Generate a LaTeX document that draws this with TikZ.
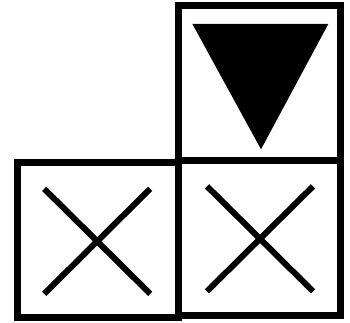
\documentclass[tikz,border=0pt]{standalone}
\usetikzlibrary{positioning}

\begin{document}
\begin{tikzpicture}[x=1pt,y=1pt]
 \tikzset{cell/.style={rectangle,draw=black,line width=7pt,
   minimum width=161.5pt,minimum height=155pt,inner sep=0pt,outer sep=0pt},
   crossbox/.style={rectangle,minimum width=106pt,minimum height=105pt,
   inner sep=0pt,outer sep=0pt},
   xstroke/.style={draw=black,line width=6pt}}
 \useasboundingbox (0,0) rectangle (350,322);
 \node (top) [cell] at (259.7,238.7) {};
 \node (botright) [cell,below=0pt of top] {};
 \node (botleft) [cell,left=0pt of botright,yshift=-2pt] {};
 \node (xleft) [crossbox] at ([shift={(-1,-1)}]botleft.center) {};
 \node (xright) [crossbox] at ([shift={(0.3,-0.5)}]botright.center) {};
 \foreach \c in {xleft,xright} {
   \draw[xstroke] (\c.north west) -- (\c.south east);
   \draw[xstroke] (\c.north east) -- (\c.south west);
 }
 \fill ([shift={(-67.3,59.3)}]top.center) -- ([shift={(68.6,59.3)}]top.center)
   -- ([shift={(1.3,-66)}]top.center) -- cycle;
\end{tikzpicture}
\end{document}
